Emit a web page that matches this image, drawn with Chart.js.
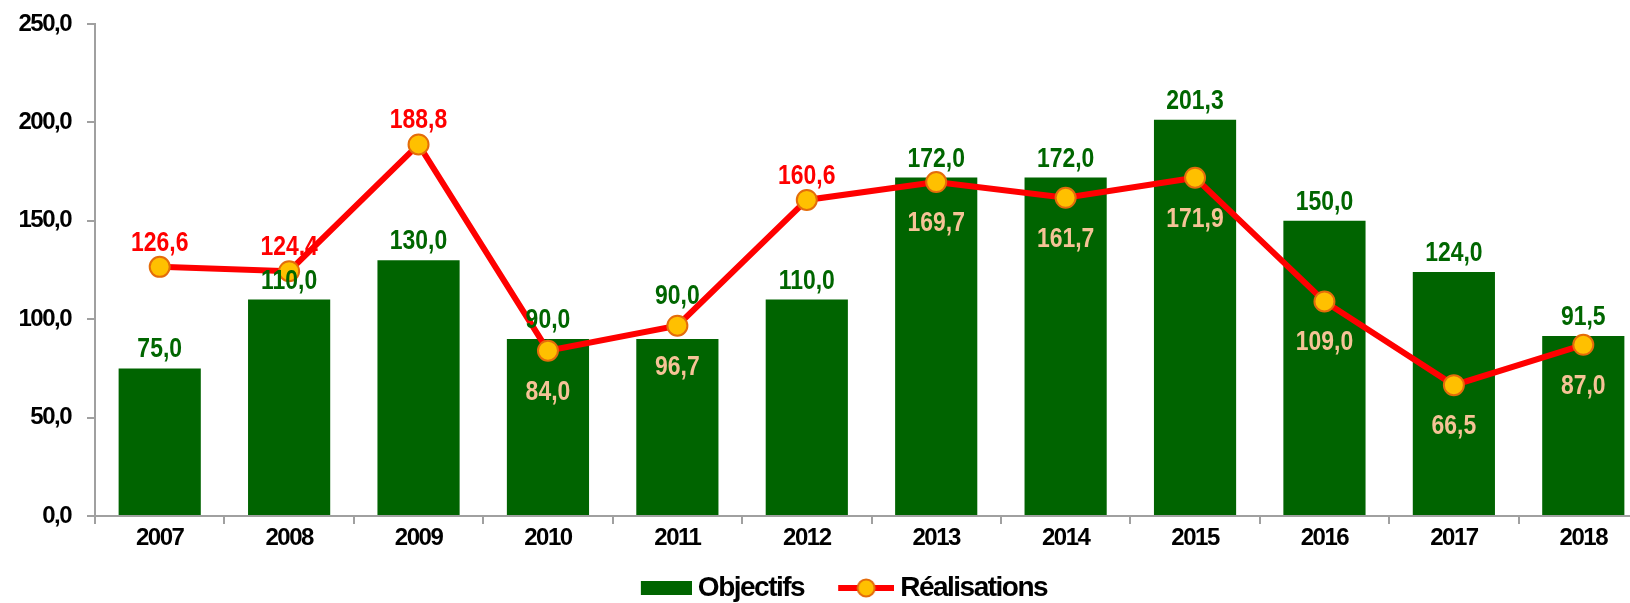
<!DOCTYPE html>
<html>
<head>
<meta charset="utf-8">
<script src="https://cdn.jsdelivr.net/npm/chart.js@4.4.0/dist/chart.umd.min.js"></script>
<style>
  html, body { margin: 0; padding: 0; background: #fff; overflow: hidden; }
  canvas { display: block; }
</style>
</head>
<body>
<canvas id="chart" width="1660" height="612"></canvas>
<script>
// données
const years = ['2007', '2008', '2009', '2010', '2011', '2012', '2013', '2014', '2015', '2016', '2017', '2018'];
const objectifs = [75.0, 110.0, 130.0, 90.0, 90.0, 110.0, 172.0, 172.0, 201.3, 150.0, 124.0, 91.5];
const realisations = [126.6, 124.4, 188.8, 84.0, 96.7, 160.6, 169.7, 161.7, 171.9, 109.0, 66.5, 87.0];
const yMin = 0, yMax = 250, yStep = 50;

const FAMILY = '"Liberation Sans", Arial, sans-serif';
const fmt = v => Number(v).toFixed(1).replace('.', ',');

// pictos de légende
function legendBar() {
    const c = document.createElement('canvas');
    c.width = 72; c.height = 16;
    const g = c.getContext('2d');
    g.fillStyle = '#006400';
    g.fillRect(21, 1, 51, 14);
    return c;
}
function legendLine() {
    const c = document.createElement('canvas');
    c.width = 72; c.height = 24;
    const g = c.getContext('2d');
    g.strokeStyle = '#FF0000';
    g.lineWidth = 6;
    g.beginPath(); g.moveTo(16, 12); g.lineTo(72, 12); g.stroke();
    g.beginPath(); g.arc(44, 12, 8.5, 0, Math.PI * 2);
    g.fillStyle = '#FFC000'; g.fill();
    g.lineWidth = 2; g.strokeStyle = '#E46C0A'; g.stroke();
    return c;
}

// texte un peu serré, comme la police "narrow" du modèle
const tightText = {
    id: 'tightText',
    beforeLayout(chart) { chart.ctx.letterSpacing = '-1.5px'; },
    afterLayout(chart) {
        // la légende du modèle est un peu décalée vers la droite
        chart.legend.left += 12;
        chart.legend.right += 12;
    },
    beforeDraw(chart) { chart.ctx.letterSpacing = '-1.5px'; }
};

// étiquettes de valeurs
function narrowText(ctx, text, x, y) {
    ctx.save();
    ctx.translate(x, y);
    ctx.scale(0.85, 1);
    ctx.fillText(text, 0, 0);
    ctx.restore();
}
const valueLabels = {
    id: 'valueLabels',
    afterDatasetsDraw(chart) {
        const ctx = chart.ctx;
        const bars = chart.getDatasetMeta(0).data;
        const pts = chart.getDatasetMeta(1).data;
        ctx.save();
        ctx.letterSpacing = '0px';
        ctx.font = 'bold 27px ' + FAMILY;
        ctx.textAlign = 'center';
        ctx.textBaseline = 'alphabetic';
        bars.forEach((bar, i) => {
            const pt = pts[i];
            let base = bar.y - 11;
            if (pt.y < bar.y && pt.y > bar.y - 20) base = pt.y - 22;
            ctx.fillStyle = '#006600';
            narrowText(ctx, fmt(objectifs[i]), bar.x, base);

            const above = realisations[i] - objectifs[i] > 10;
            ctx.fillStyle = above ? '#FF0000' : '#F5C396';
            narrowText(ctx, fmt(realisations[i]), pt.x, above ? pt.y - 16 : pt.y + 49);
        });
        ctx.restore();
    }
};

const axisColor = '#A0A0A0';

new Chart(document.getElementById('chart'), {
    type: 'bar',
    data: {
        labels: years,
        datasets: [
            {
                type: 'bar',
                label: 'Objectifs',
                data: objectifs,
                backgroundColor: '#006400',
                barPercentage: 0.635,
                categoryPercentage: 1,
                order: 2
            },
            {
                type: 'line',
                label: 'Réalisations',
                data: realisations,
                borderColor: '#FF0000',
                borderWidth: 6,
                pointRadius: 10,
                pointBackgroundColor: '#FFC000',
                pointBorderColor: '#E46C0A',
                pointBorderWidth: 2,
                tension: 0,
                order: 1
            }
        ]
    },
    options: {
        responsive: false,
        animation: false,
        layout: { padding: { top: 24, right: 9, left: 0, bottom: 0 } },
        plugins: {
            tooltip: { enabled: false },
            legend: {
                position: 'bottom',
                labels: {
                    usePointStyle: true,
                    pointStyleWidth: 56,
                    padding: 26,
                    color: '#000',
                    font: { family: FAMILY, size: 28, weight: 'bold' },
                    generateLabels: () => [
                        { text: 'Objectifs', pointStyle: legendBar(), fillStyle: '#006400', strokeStyle: '#006400', lineWidth: 0, datasetIndex: 0, hidden: false, fontColor: '#000' },
                        { text: 'Réalisations', pointStyle: legendLine(), fillStyle: '#FFC000', strokeStyle: '#FF0000', lineWidth: 0, datasetIndex: 1, hidden: false, fontColor: '#000' }
                    ]
                }
            }
        },
        scales: {
            x: {
                grid: { display: true, drawOnChartArea: false, offset: true, color: axisColor, lineWidth: 2, tickLength: 8 },
                border: { color: axisColor, width: 2 },
                ticks: { color: '#000', padding: 0, maxRotation: 0, font: { family: FAMILY, size: 24, weight: 'bold' } },
                afterFit(s) { s.height = 32; }
            },
            y: {
                min: yMin,
                max: yMax,
                grid: { drawOnChartArea: false, color: axisColor, lineWidth: 2, tickLength: 8 },
                border: { color: axisColor, width: 2 },
                ticks: { stepSize: yStep, padding: 16, color: '#000', callback: v => fmt(v), font: { family: FAMILY, size: 24, weight: 'bold' } },
                afterFit(s) { s.width = 95; s.paddingTop = 0; s.paddingBottom = 0; }
            }
        }
    },
    plugins: [tightText, valueLabels]
});
</script>
</body>
</html>
